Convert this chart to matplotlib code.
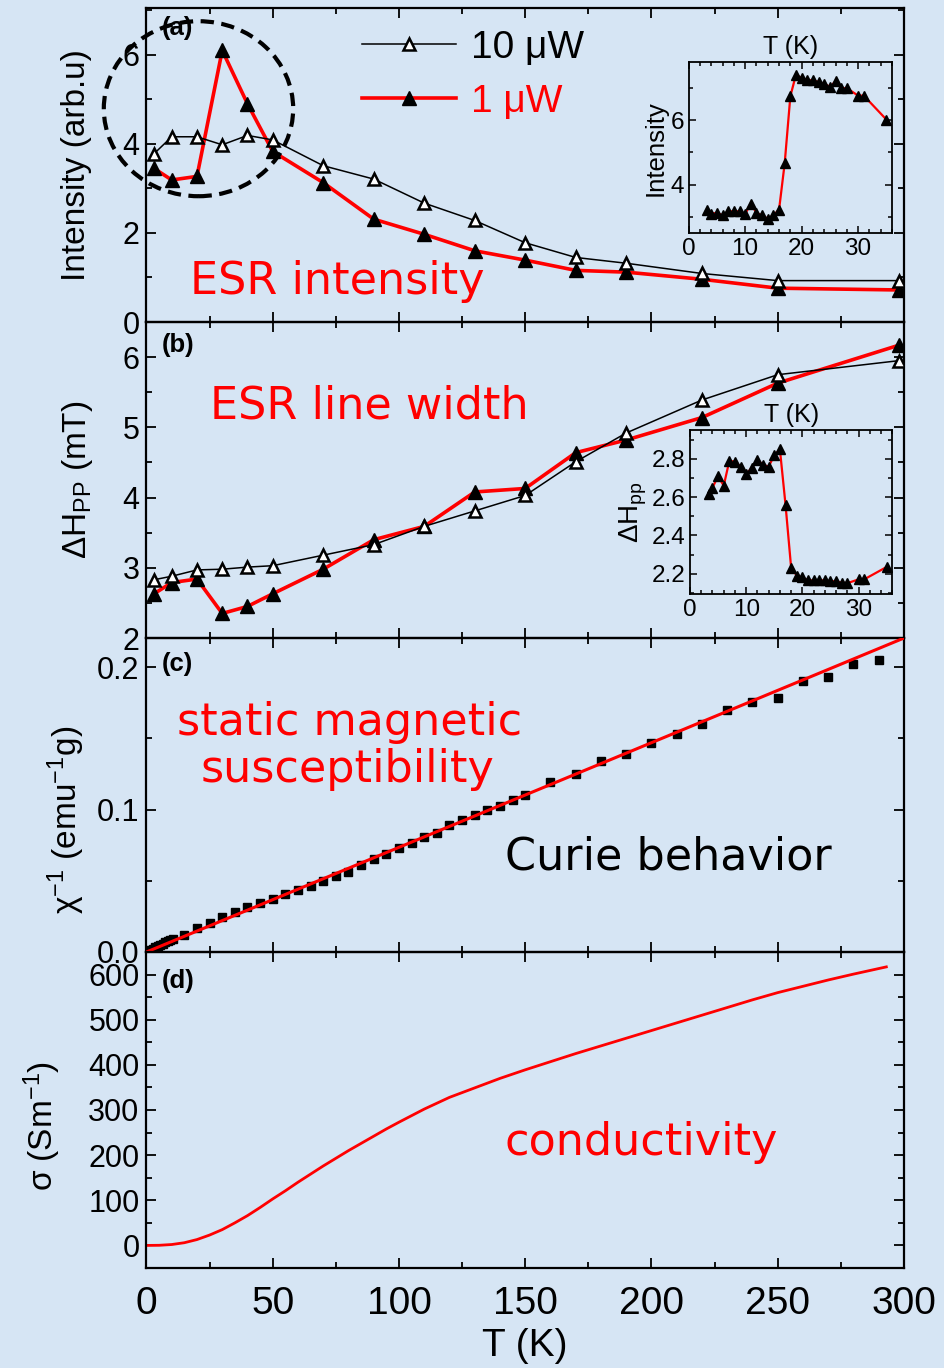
import matplotlib
matplotlib.use("Agg")
import matplotlib.pyplot as plt
from matplotlib.patches import Ellipse
from matplotlib.lines import Line2D
from matplotlib.ticker import MultipleLocator

plt.rcParams['font.family'] = ['Liberation Sans', 'DejaVu Sans']
plt.rcParams['mathtext.fontset'] = 'custom'
plt.rcParams['mathtext.rm'] = 'Liberation Sans'
plt.rcParams['mathtext.it'] = 'Liberation Sans:italic'
plt.rcParams['mathtext.default'] = 'regular'

# ---------------- data ----------------
# ESR, full temperature range (two microwave powers)
T_main = [3, 10, 20, 30, 40, 50, 70, 90, 110, 130, 150, 170, 190, 220, 250, 298]
int_10uW = [3.78, 4.16, 4.16, 3.98, 4.19, 4.09, 3.51, 3.21, 2.67, 2.28, 1.78, 1.45, 1.32, 1.09, 0.93, 0.93]
int_1uW = [3.45, 3.19, 3.27, 6.10, 4.90, 3.83, 3.13, 2.31, 1.97, 1.60, 1.39, 1.16, 1.12, 0.96, 0.76, 0.72]
dH_10uW = [2.83, 2.88, 2.97, 2.98, 3.01, 3.03, 3.18, 3.33, 3.59, 3.81, 4.03, 4.51, 4.92, 5.39, 5.75, 5.95]
dH_1uW = [2.63, 2.79, 2.84, 2.35, 2.45, 2.63, 2.98, 3.40, 3.59, 4.08, 4.13, 4.64, 4.82, 5.14, 5.63, 6.17]

# ESR, low-temperature detail
T_low = [3.3, 4, 5, 6, 7, 8, 9, 10, 11, 12, 13, 14, 15, 16, 17, 18, 19, 20,
         21, 22, 23, 24, 25, 26, 27, 28, 30, 31, 35]
int_low = [3.23, 3.11, 3.13, 3.06, 3.18, 3.18, 3.18, 3.10, 3.42, 3.13, 3.06, 2.95,
           3.06, 3.23, 4.67, 6.74, 7.41, 7.30, 7.25, 7.23, 7.18, 7.13, 7.03, 7.20,
           6.99, 6.99, 6.76, 6.76, 6.02]
dH_low = [2.615, 2.65, 2.71, 2.66, 2.79, 2.786, 2.76, 2.72, 2.755, 2.795, 2.77, 2.76,
          2.82, 2.85, 2.56, 2.23, 2.19, 2.18, 2.165, 2.165, 2.165, 2.165, 2.16, 2.16,
          2.153, 2.15, 2.17, 2.17, 2.235]

# inverse static susceptibility
T_chi = [1.5, 2.5, 3.5, 4.5, 5.5, 6.5, 7.5, 8.5, 9.5, 10.5, 15, 20, 25, 30, 35, 40,
         45, 50, 55, 60, 65, 70, 75, 80, 85, 90, 95, 100, 105, 110, 115, 120, 125,
         130, 135, 140, 145, 150, 160, 170, 180, 190, 200, 210, 220, 230, 240, 250,
         260, 270, 280, 290]
chi_inv = [0.0015, 0.0024, 0.0032, 0.0041, 0.0050, 0.0059, 0.0067, 0.0076, 0.0085,
           0.0094, 0.0120, 0.0168, 0.0207, 0.0244, 0.0279, 0.0314, 0.0343, 0.0374,
           0.0409, 0.0432, 0.0463, 0.0498, 0.0533, 0.0563, 0.0614, 0.0654, 0.0685,
           0.0731, 0.0766, 0.0806, 0.0836, 0.0895, 0.0925, 0.0965, 0.0995, 0.1023,
           0.1070, 0.1100, 0.1192, 0.1250, 0.1339, 0.1390, 0.1467, 0.1530, 0.1600,
           0.1701, 0.1759, 0.1783, 0.1900, 0.1930, 0.2021, 0.2051]
curie_slope = 7.35e-4          # emu^-1 g K^-1
fit_T = [0, 300]

# conductivity
T_sigma = [0, 5, 10, 15, 20, 25, 30, 35, 40, 45, 50, 55, 60, 65, 70, 75, 80, 85, 90,
           95, 100, 110, 120, 130, 140, 150, 160, 170, 180, 190, 200, 210, 220, 230,
           240, 250, 260, 270, 280, 293]
sigma = [0, 0.3, 2, 6, 13, 23, 35, 50, 66, 84, 103, 121, 140, 158, 176, 193, 210, 226,
         242, 258, 273, 302, 328, 349, 370, 389, 407, 425, 442, 459, 476, 493, 510, 527,
         544, 560, 574, 588, 601, 617]

# ---------------- figure ----------------
BG = '#d6e5f4'
fig = plt.figure(figsize=(9.45, 13.68), dpi=100, facecolor=BG)
left, width = 0.155, 0.8016
ax_a = fig.add_axes([left, 0.7646, width, 0.2295])
ax_b = fig.add_axes([left, 0.5336, width, 0.2310], sharex=ax_a)
ax_c = fig.add_axes([left, 0.3041, width, 0.2295], sharex=ax_a)
ax_d = fig.add_axes([left, 0.0731, width, 0.2310], sharex=ax_a)


def style_main(ax, ymajor, yminor):
    ax.set_facecolor('none')
    for s in ax.spines.values():
        s.set_linewidth(1.6)
    ax.xaxis.set_major_locator(MultipleLocator(50))
    ax.xaxis.set_minor_locator(MultipleLocator(25))
    ax.yaxis.set_major_locator(MultipleLocator(ymajor))
    ax.yaxis.set_minor_locator(MultipleLocator(yminor))
    ax.tick_params(which='both', direction='in', top=True, right=True, width=1.3)
    ax.tick_params(which='major', length=7)
    ax.tick_params(which='minor', length=4)
    ax.tick_params(axis='y', labelsize=22, pad=5)


for ax, maj, mnr in [(ax_a, 2, 1), (ax_b, 1, 0.5), (ax_c, 0.1, 0.05), (ax_d, 100, 50)]:
    style_main(ax, maj, mnr)
for ax in (ax_a, ax_b, ax_c):
    ax.tick_params(axis='x', labelbottom=False)

ax_a.set_xlim(0, 300)
ax_a.set_ylim(0, 7.05)
ax_b.set_ylim(2, 6.5)
ax_c.set_ylim(0, 0.2205)
ax_d.set_ylim(-50, 650)

ax_d.tick_params(axis='x', labelsize=28, pad=13)
ax_d.set_xlabel('T (K)', fontsize=28, labelpad=4)

ax_a.set_ylabel('Intensity (arb.u)', fontsize=24)
ax_b.set_ylabel('ΔH$_{PP}$ (mT)', fontsize=24)
ax_c.set_ylabel('χ$^{-1}$ (emu$^{-1}$g)', fontsize=24)
ax_d.set_ylabel('σ (Sm$^{-1}$)', fontsize=24)
ax_a.yaxis.set_label_coords(-0.072, 0.5)
ax_b.yaxis.set_label_coords(-0.068, 0.5)
ax_c.yaxis.set_label_coords(-0.078, 0.42)
ax_d.yaxis.set_label_coords(-0.11, 0.45)

for ax, lab, yy in [(ax_a, '(a)', 0.975), (ax_b, '(b)', 0.965), (ax_c, '(c)', 0.955), (ax_d, '(d)', 0.945)]:
    ax.text(0.02, yy, lab, transform=ax.transAxes, fontsize=18.5, fontweight='bold',
            ha='left', va='top')

note_kw = dict(fontsize=32, family='DejaVu Sans', ha='left', va='center')

# (a) ESR intensity
open_kw = dict(color='black', lw=1.1, marker='^', ms=9, mfc='white', mec='black', mew=1.8)
fill_kw = dict(color='red', lw=2.6, marker='^', ms=10.5, mfc='black', mec='black', mew=1)
ax_a.plot(T_main, int_1uW, zorder=2, **fill_kw)
ax_a.plot(T_main, int_10uW, zorder=3, **open_kw)
ax_a.add_patch(Ellipse((20.6, 4.79), 75, 3.93, fill=False, ec='black', lw=3,
                       ls=(0, (3.2, 1.8)), clip_on=False, zorder=4))
h10 = Line2D([], [], **open_kw)
h1 = Line2D([], [], **fill_kw)
ax_a.legend([h10, h1], ['10 μW', '1 μW'], loc='upper left', bbox_to_anchor=(0.285, 0.93),
            frameon=False, fontsize=28, labelcolor=['black', 'red'], handlelength=2.4,
            handletextpad=0.4, labelspacing=0.45, borderaxespad=0, borderpad=0)
ax_a.text(0.057, 0.13, 'ESR intensity', color='red', transform=ax_a.transAxes, **note_kw)

# (b) ESR line width
ax_b.plot(T_main, dH_1uW, zorder=2, **fill_kw)
ax_b.plot(T_main, dH_10uW, zorder=3, **open_kw)
ax_b.text(0.084, 0.734, 'ESR line width', color='red', transform=ax_b.transAxes, **note_kw)

# (c) inverse susceptibility with Curie fit
ax_c.plot(T_chi, chi_inv, 's', color='black', ms=5.5, zorder=2)
ax_c.plot(fit_T, [curie_slope * t for t in fit_T], color='red', lw=2.2, zorder=3)
ax_c.text(0.04, 0.732, 'static magnetic', color='red', transform=ax_c.transAxes, **note_kw)
ax_c.text(0.071, 0.58, 'susceptibility', color='red', transform=ax_c.transAxes, **note_kw)
ax_c.text(0.473, 0.303, 'Curie behavior', color='black', transform=ax_c.transAxes, **note_kw)

# (d) conductivity
ax_d.plot(T_sigma, sigma, color='red', lw=2)
ax_d.text(0.473, 0.396, 'conductivity', color='red', transform=ax_d.transAxes, **note_kw)


# ---------------- insets ----------------
def style_inset(ax, ymajor, yminor):
    ax.set_facecolor('none')
    for s in ax.spines.values():
        s.set_linewidth(1.3)
    ax.set_xlim(0, 36)
    ax.xaxis.set_major_locator(MultipleLocator(10))
    ax.xaxis.set_minor_locator(MultipleLocator(2))
    ax.yaxis.set_major_locator(MultipleLocator(ymajor))
    ax.yaxis.set_minor_locator(MultipleLocator(yminor))
    ax.tick_params(which='both', direction='in', top=True, right=True, width=1.1,
                   labelsize=17.5)
    ax.tick_params(which='major', length=5)
    ax.tick_params(which='minor', length=3)
    ax.xaxis.set_label_position('top')
    ax.set_xlabel('T (K)', fontsize=18, labelpad=6)


ins_kw = dict(color='red', lw=1.6, marker='^', ms=6.5, mfc='black', mec='black')

ins_a = fig.add_axes([688.7 / 945, 1 - 233.3 / 1368, 203.3 / 945, 171.3 / 1368])
style_inset(ins_a, 2, 1)
ins_a.set_ylim(2.5, 7.8)
ins_a.plot(T_low, int_low, **ins_kw)
ins_a.set_ylabel('Intensity', fontsize=18.5, labelpad=2)

ins_b = fig.add_axes([690 / 945, 1 - 593.7 / 1368, 202.3 / 945, 163.4 / 1368])
style_inset(ins_b, 0.2, 0.1)
ins_b.set_ylim(2.095, 2.95)
ins_b.plot(T_low, dH_low, **ins_kw)
ins_b.set_ylabel('ΔH$_{pp}$', fontsize=20, labelpad=2)

fig.savefig('out.png', dpi=100, facecolor=BG)
